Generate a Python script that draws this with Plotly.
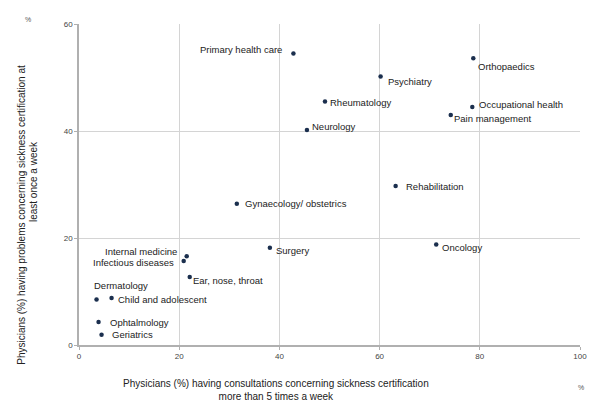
import plotly.graph_objects as go

# specialties
specialties = [
    "Primary health care", "Psychiatry", "Orthopaedics", "Rheumatology",
    "Neurology", "Occupational health", "Pain management", "Rehabilitation",
    "Gynaecology/ obstetrics", "Internal medicine", "Infectious diseases",
    "Ear, nose, throat", "Surgery", "Dermatology", "Child and adolescent",
    "Ophtalmology", "Geriatrics", "Oncology",
]
consult_pct = [42.8, 60.2, 78.7, 49.1, 45.5, 78.5, 74.2, 63.2, 31.5,
               21.5, 20.9, 22.1, 38.1, 3.5, 6.5, 3.9, 4.5, 71.3]
problem_pct = [54.5, 50.2, 53.6, 45.5, 40.2, 44.5, 43.0, 29.7, 26.4,
               16.6, 15.7, 12.7, 18.2, 8.5, 8.8, 4.3, 1.9, 18.8]

x_ticks = [0, 20, 40, 60, 80, 100]
y_ticks = [0, 20, 40, 60]

# label placement: (xanchor, xshift, yshift) per point
label_pos = {
    "Primary health care": ("right", -9, 4),
    "Psychiatry": ("left", 5, -5),
    "Orthopaedics": ("left", 3, -8),
    "Rheumatology": ("left", 3, -1),
    "Neurology": ("left", 3, 3),
    "Occupational health": ("left", 5, 2),
    "Pain management": ("left", 1, -4),
    "Rehabilitation": ("left", 8, 0),
    "Gynaecology/ obstetrics": ("left", 6, 0),
    "Internal medicine": ("right", -8, 5),
    "Infectious diseases": ("right", -8, -1),
    "Ear, nose, throat": ("left", 1, -3),
    "Surgery": ("left", 4, -3),
    "Dermatology": ("left", -5, 14),
    "Child and adolescent": ("left", 4, -2),
    "Ophtalmology": ("left", 9, 0),
    "Geriatrics": ("left", 8, 0),
    "Oncology": ("left", 4, -3),
}

FONT = "Liberation Sans, Arial, sans-serif"

fig = go.Figure()

fig.add_trace(
    go.Scatter(
        x=consult_pct,
        y=problem_pct,
        mode="markers",
        marker=dict(size=4.5, color="#1b2f4e"),
        hoverinfo="skip",
        showlegend=False,
    )
)

for name, xv, yv in zip(specialties, consult_pct, problem_pct):
    anchor, dx, dy = label_pos[name]
    fig.add_annotation(
        x=xv, y=yv, xref="x", yref="y",
        text=name, showarrow=False,
        xanchor=anchor, yanchor="middle",
        xshift=dx, yshift=dy,
        font=dict(family=FONT, size=9.5, color="#222222"),
    )

# axis titles
fig.add_annotation(
    x=0.393, y=-0.1393, xref="paper", yref="paper",
    text="Physicians (%) having consultations concerning sickness certification<br>more than 5 times a week",
    showarrow=False, xanchor="center", yanchor="middle", align="center",
    font=dict(family=FONT, size=10, color="#222222"),
)
fig.add_annotation(
    x=-0.1138, y=0.4056, xref="paper", yref="paper",
    text="Physicians (%) having problems concerning sickness certification at",
    showarrow=False, textangle=-90, xanchor="center", yanchor="middle",
    font=dict(family=FONT, size=10, color="#222222"),
)
fig.add_annotation(
    x=-0.0918, y=0.5077, xref="paper", yref="paper",
    text="least once a week",
    showarrow=False, textangle=-90, xanchor="center", yanchor="middle",
    font=dict(family=FONT, size=10, color="#222222"),
)
# unit marks
for px_, py_ in [(-0.1018, 1.0155), (1.002, -0.133)]:
    fig.add_annotation(
        x=px_, y=py_, xref="paper", yref="paper", text="%",
        showarrow=False, xanchor="center", yanchor="middle",
        font=dict(family=FONT, size=7, color="#555555"),
    )

axis_common = dict(
    showgrid=True, gridcolor="#d4d4d4", gridwidth=1,
    showline=True, linecolor="#b0b0b0", linewidth=1.5,
    ticks="outside", ticklen=3, tickcolor="#b0b0b0",
    zeroline=False,
    tickfont=dict(family=FONT, size=8, color="#444444"),
)

fig.update_xaxes(range=[0, 100], tickvals=x_ticks, **axis_common)
fig.update_yaxes(range=[0, 60], tickvals=y_ticks, **axis_common)

# page body adds an 8px margin, so the figure is sized 592x400
fig.update_layout(
    width=592, height=400,
    margin=dict(l=71, r=20, t=14, b=63),
    plot_bgcolor="white", paper_bgcolor="white",
    showlegend=False,
)

fig.write_html("out.html")
